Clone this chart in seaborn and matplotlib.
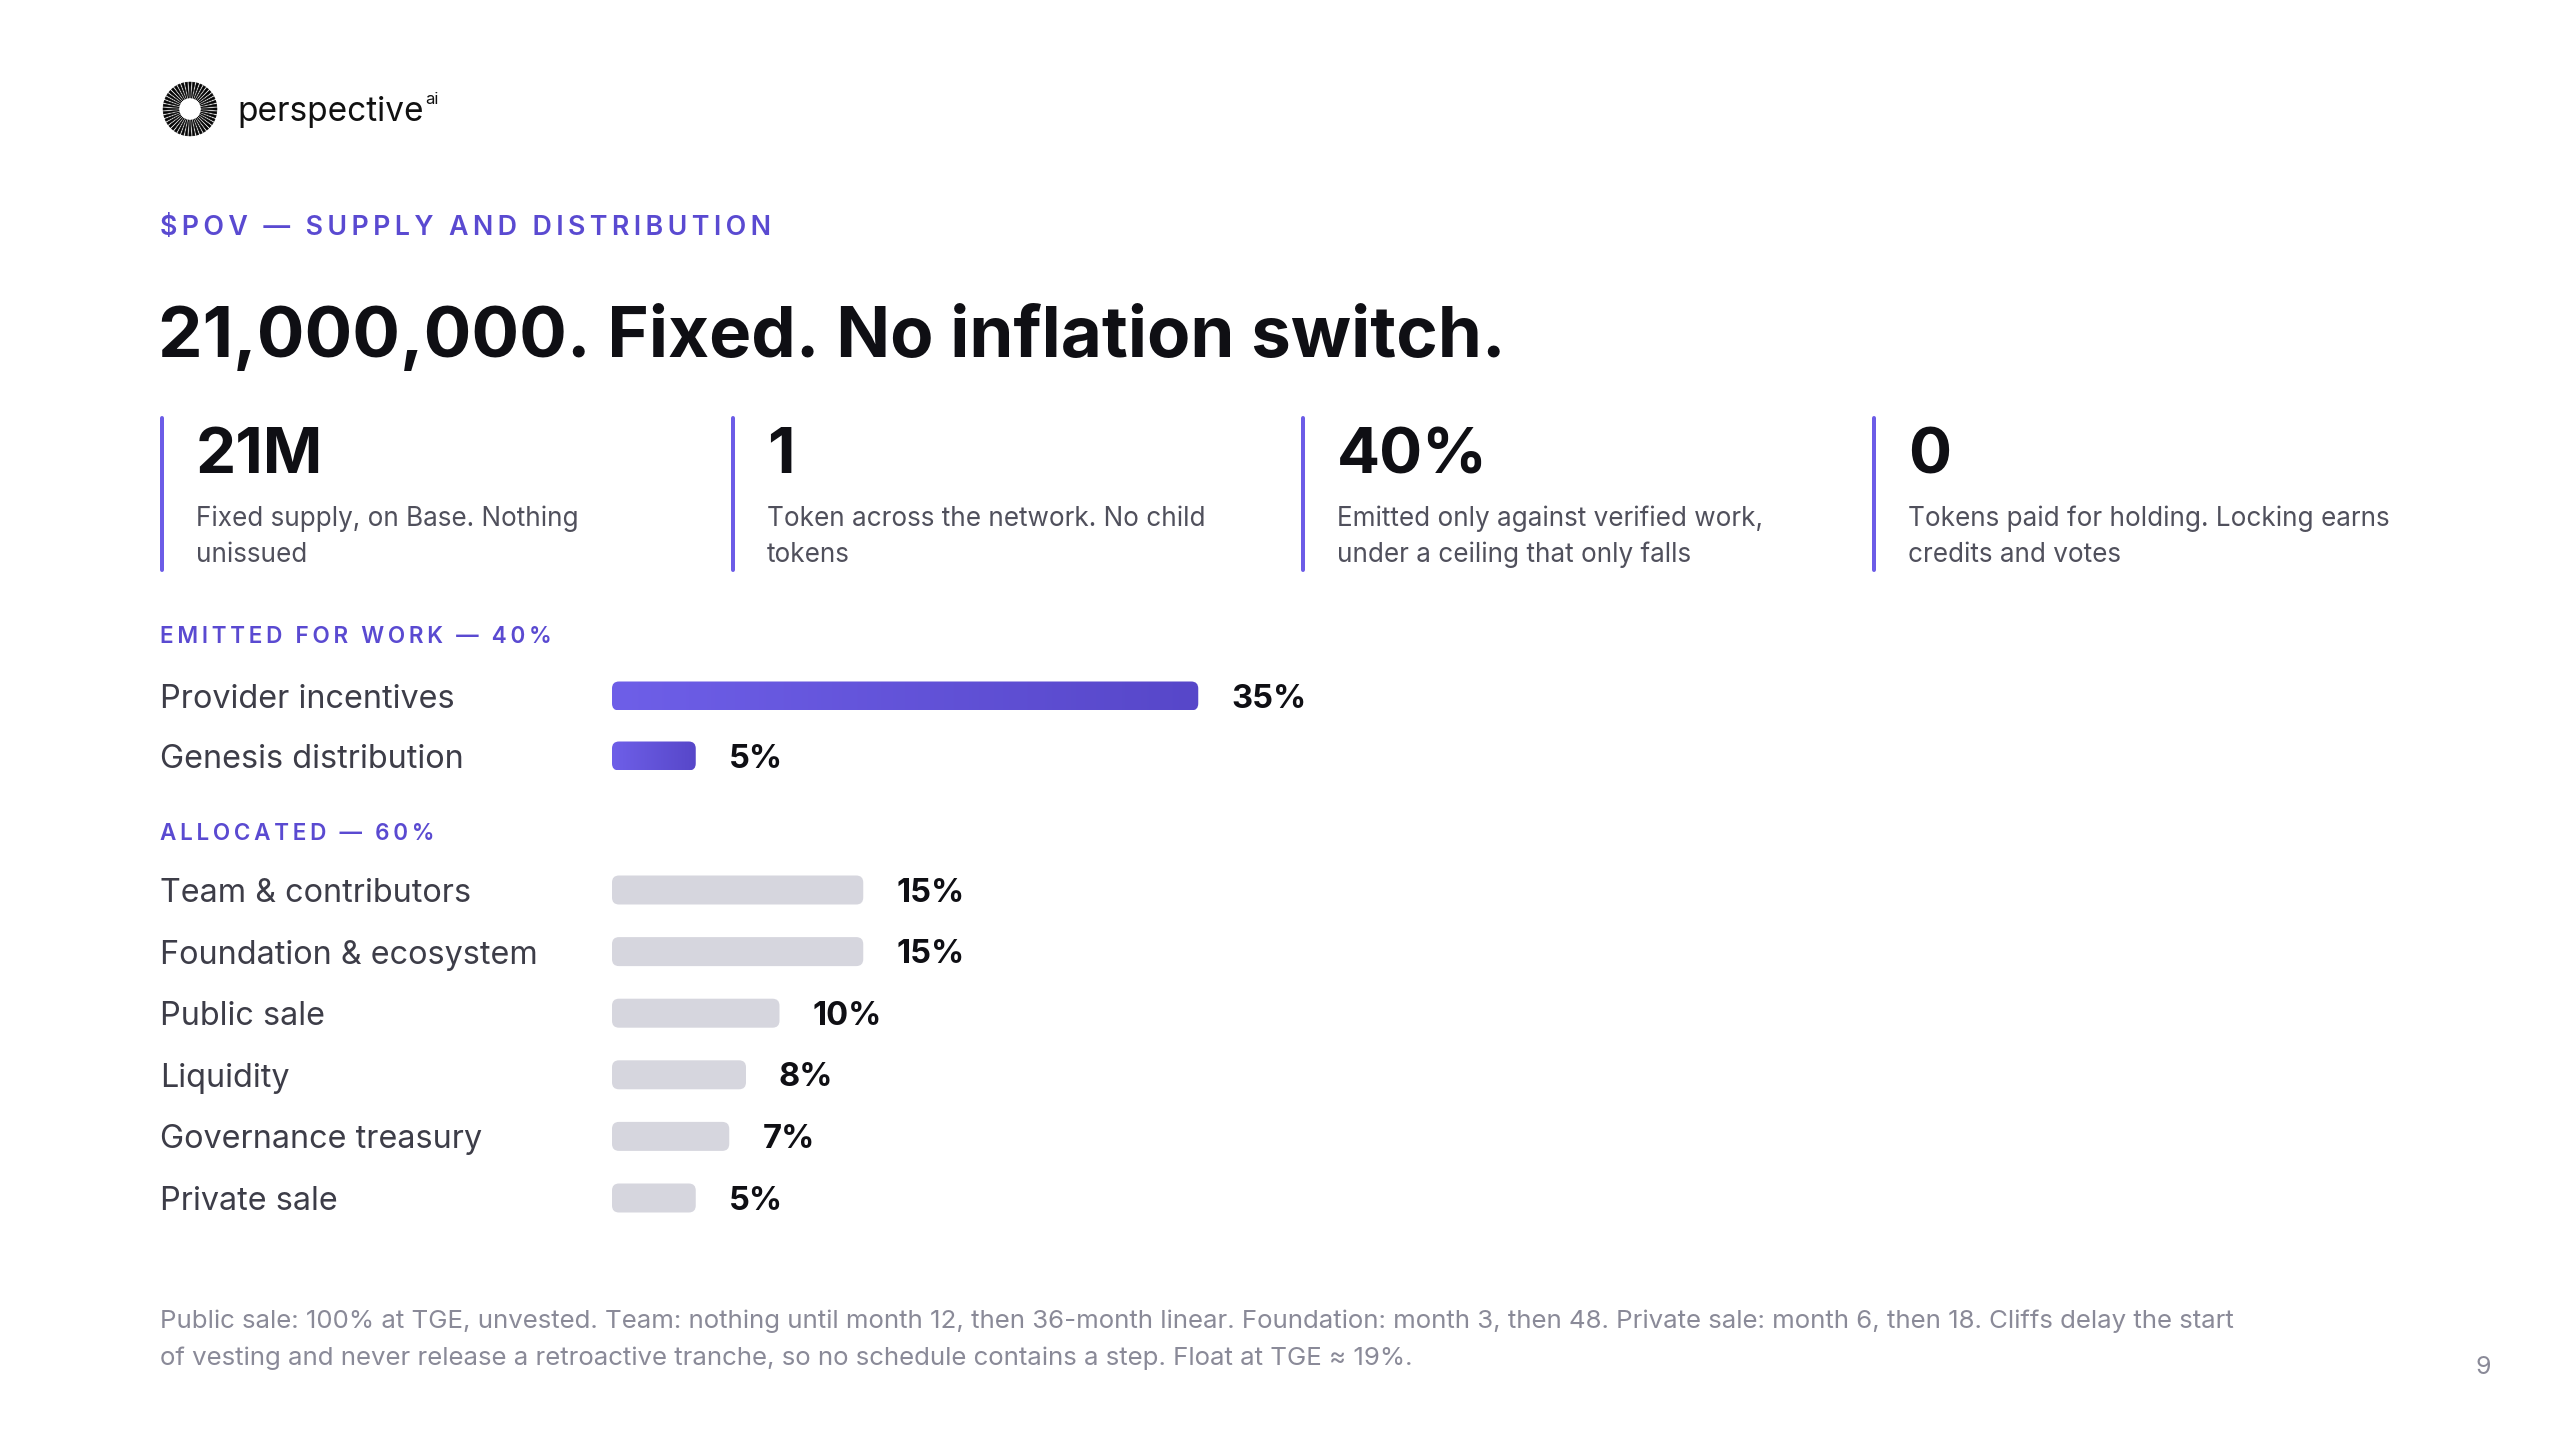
import numpy as np
import pandas as pd
import matplotlib
matplotlib.use("Agg")
import matplotlib.pyplot as plt
import seaborn as sns
from matplotlib.patches import FancyBboxPatch
from matplotlib.colors import LinearSegmentedColormap
from matplotlib.collections import PolyCollection
from matplotlib.lines import Line2D

# ---------------- data ----------------
emit_cats = ["Provider incentives", "Genesis distribution"]
emit_vals = [35, 5]
alloc_cats = ["Team & contributors", "Foundation & ecosystem", "Public sale",
              "Liquidity", "Governance treasury", "Private sale"]
alloc_vals = [15, 15, 10, 8, 7, 5]

stat_values = ["21M", "1", "40%", "0"]
stat_lines = [
    ["Fixed supply, on Base. Nothing", "unissued"],
    ["Token across the network. No child", "tokens"],
    ["Emitted only against verified work,", "under a ceiling that only falls"],
    ["Tokens paid for holding. Locking earns", "credits and votes"],
]
kicker = "$POV — SUPPLY AND DISTRIBUTION"
title = "21,000,000. Fixed. No inflation switch."
emit_header = "EMITTED FOR WORK — 40%"
alloc_header = "ALLOCATED — 60%"
footnote = [
    "Public sale: 100% at TGE, unvested. Team: nothing until month 12, then 36-month linear. "
    "Foundation: month 3, then 48. Private sale: month 6, then 18. Cliffs delay the start",
    "of vesting and never release a retroactive tranche, so no schedule contains a step. Float at TGE ≈ 19%.",
]
page_no = "9"

# ---------------- style ----------------
W, H = 2560, 1440
PT = 72 / 100  # px -> pt at dpi 100
sns.set_theme(style="white")
plt.rcParams["font.family"] = ["Inter", "DejaVu Sans"]

PURPLE_TXT = "#5A4AD1"
PURPLE_LINE = "#6C5CE7"
GRAD_L, GRAD_R = "#6E5FE8", "#5747C9"
GREY_BAR = "#D6D6DE"
DARK = "#0F0F14"
LABEL = "#3D3D48"
DESC = "#50505C"
FOOT = "#8A8A98"

fig = plt.figure(figsize=(25.6, 14.4), dpi=100)
fig.patch.set_facecolor("white")
renderer = fig.canvas.get_renderer()


def fx(x):
    return x / W


def fy(y):
    return 1 - y / H


def track(s):
    return "\u2009".join(s)


# ---------------- logo ----------------
lax = fig.add_axes([fx(190 - 30), fy(109 + 30), 60 / W, 60 / H])
lax.set_xlim(-30, 30)
lax.set_ylim(-30, 30)
lax.set_aspect("equal")
lax.axis("off")
n_rays = 44
ang = np.linspace(0, 2 * np.pi, n_rays, endpoint=False)
dw = 0.62 * (np.pi / n_rays)
polys = []
for a in ang:
    r0, r1 = 11.0, 27
    polys.append([(r0 * np.cos(a - dw * 0.5), r0 * np.sin(a - dw * 0.5)),
                  (r1 * np.cos(a - dw), r1 * np.sin(a - dw)),
                  (r1 * np.cos(a + dw), r1 * np.sin(a + dw)),
                  (r0 * np.cos(a + dw * 0.5), r0 * np.sin(a + dw * 0.5))])
lax.add_collection(PolyCollection(polys, facecolors="#050505", edgecolors="#050505",
                                  linewidths=0.4))

t = fig.text(fx(237), fy(112), "perspective", size=24, weight="normal", color="#111111", va="center")
bb = t.get_window_extent(renderer)
fig.text(fx(bb.x1 + 2), fy(100), "ai", size=12, weight="normal", color="#111111", va="center")

# ---------------- headings ----------------
fig.text(fx(160), fy(228), track(kicker), size=19.3, weight="semibold",
         color=PURPLE_TXT, va="center")
fig.text(fx(158), fy(357), title, size=51, weight="bold", color=DARK, va="baseline")

# ---------------- stat blocks ----------------
line_x = [162, 733, 1303, 1874]
for x, v, lines in zip(line_x, stat_values, stat_lines):
    fig.add_artist(Line2D([fx(x), fx(x)], [fy(418), fy(570)], lw=4 * PT, color=PURPLE_LINE))
    fig.text(fx(x + 34), fy(473), v, size=46, weight="bold", color=DARK, va="baseline")
    for k, ln in enumerate(lines):
        fig.text(fx(x + 34), fy(519 + 36 * k), ln, size=18.8, color=DESC, va="center")

# ---------------- section headers ----------------
fig.text(fx(160), fy(637), track(emit_header), size=16.2, weight="semibold",
         color=PURPLE_TXT, va="center")
fig.text(fx(160), fy(834), track(alloc_header), size=16.2, weight="semibold",
         color=PURPLE_TXT, va="center")

# ---------------- bars ----------------
PX_PER_PCT = 16.75
XMAX = 40
BAR_H_PX = 29
R_PX = 7


def bar_block(first_center, spacing, cats, vals, gradient):
    n = len(cats)
    top = first_center - spacing / 2
    ax = fig.add_axes([fx(612), fy(top + n * spacing), XMAX * PX_PER_PCT / W, n * spacing / H])
    df = pd.DataFrame({"cat": cats, "val": vals})
    sns.barplot(data=df, x="val", y="cat", orient="h", ax=ax,
                width=BAR_H_PX / spacing, color=GREY_BAR, saturation=1)
    ax.set_xlim(0, XMAX)
    ax.set_ylim(n - 0.5, -0.5)
    anns = ax.bar_label(ax.containers[0], labels=[f"{v}%" for v in vals],
                        padding=33 * PT, fontsize=23.5, fontweight="bold", color=DARK)
    for a in anns:
        ox, oy = a.xyann
        a.xyann = (ox, oy - 2.2)
    r_x = R_PX / PX_PER_PCT
    asp = PX_PER_PCT / spacing
    cmap = LinearSegmentedColormap.from_list("g", [GRAD_L, GRAD_R])
    for p in list(ax.patches):
        x0, y0, w, h = p.get_x(), p.get_y(), p.get_width(), p.get_height()
        p.set_visible(False)
        fb = FancyBboxPatch((x0, y0), w, h, boxstyle=f"round,pad=0,rounding_size={r_x}",
                            mutation_aspect=asp, fc=GREY_BAR, ec="none", zorder=2)
        ax.add_patch(fb)
        if gradient:
            fb.set_facecolor("none")
            grad = np.linspace(0, 1, 256).reshape(1, -1)
            im = ax.imshow(grad, extent=[x0, x0 + w, y0 + h, y0], aspect="auto",
                           cmap=cmap, zorder=3, interpolation="bilinear")
            im.set_clip_path(fb)
    ax.set_xlim(0, XMAX)
    ax.set_ylim(n - 0.5, -0.5)
    ax.set_yticks(range(n))
    ax.set_yticklabels(cats, ha="left", fontsize=23.3, color=LABEL)
    ax.tick_params(axis="y", length=0, pad=452 * PT)
    ax.set_xticks([])
    ax.set_xlabel("")
    ax.set_ylabel("")
    ax.set_facecolor("none")
    for s in ax.spines.values():
        s.set_visible(False)
    return ax


bar_block(696, 60, emit_cats, emit_vals, gradient=True)
bar_block(890, 61.6, alloc_cats, alloc_vals, gradient=False)

# ---------------- footnote ----------------
for k, ln in enumerate(footnote):
    fig.text(fx(160), fy(1321 + 37 * k), ln, size=18.6, color=FOOT, va="center")
fig.text(fx(2483), fy(1368), page_no, size=18, color=FOOT, ha="center", va="center")

fig.savefig("out.png", dpi=100, facecolor="white")
